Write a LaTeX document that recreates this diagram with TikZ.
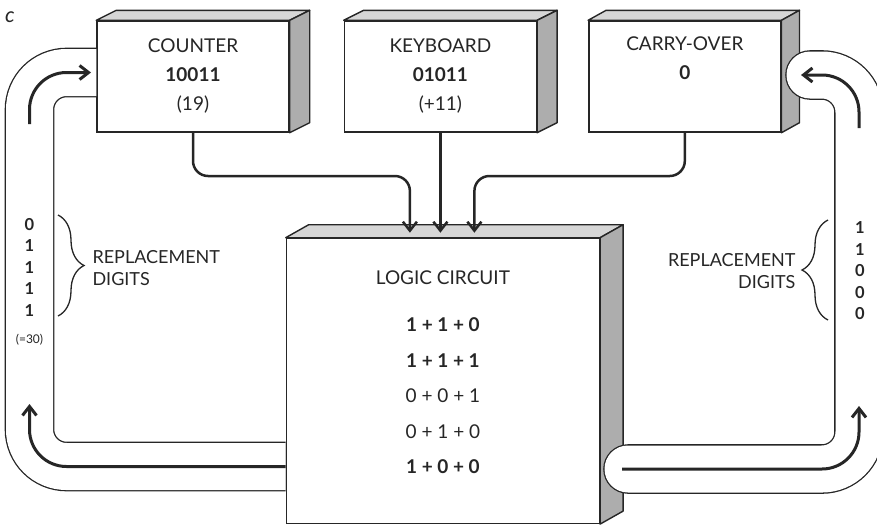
\documentclass[tikz,border=0pt]{standalone}
\usepackage{fontspec}
\setmainfont{Lato}
\usetikzlibrary{positioning, arrows.meta, calc, decorations.pathreplacing}

\begin{document}
\begin{tikzpicture}[
    x=1pt, y=-1pt,
    box/.style    = {draw=black!85, fill=white, line width=1.4pt, minimum width=192pt,
                     minimum height=111pt, align=center, inner sep=0pt, text=black!85,
                     font=\fontsize{19}{29}\selectfont},
    unit/.style   = {box, minimum width=313pt, minimum height=285pt},
    face/.style   = {draw=black!85, line width=1.4pt, line join=round, fill=black!16},
    side/.style   = {face, fill=black!32},
    tube/.style   = {draw=black!85, double=white, double distance=47pt, line width=1.3pt,
                     rounded corners=37pt},
    flow/.style   = {-{Straight Barb[length=9pt, width=14pt]}, draw=black!85,
                     line width=2.5pt, rounded corners=15pt},
    surge/.style  = {flow, line width=3pt, rounded corners=37pt},
    sum/.style    = {text=black!85, font=\fontsize{19}{19}\selectfont},
    note/.style   = {text=black!85, font=\fontsize{18}{22}\selectfont},
    digits/.style = {text=black!85, align=center, font=\bfseries\fontsize{16.5}{21.5}\selectfont},
    curly/.style  = {decorate, decoration={brace, amplitude=26pt}, draw=black!85, line width=1.3pt},
  ]
  \useasboundingbox (0,0) rectangle (877,525);
  \clip (0,0) rectangle (877,525);

  \node[box] (counter) at (193,76.5) {COUNTER\\\textbf{10011}\\(19)};
  \node[box, right=54pt of counter] (keyboard) {KEYBOARD\\\textbf{01011}\\(+11)};
  \node[box, right=51pt of keyboard] (carry) {CARRY-OVER\\\textbf{0}\\\strut};
  \node[unit, below=105pt of keyboard, xshift=2.5pt] (logic) {};

  % top and side faces of the blocks
  \foreach \b/\dx/\dy in {counter/20/10, keyboard/20/10, carry/18/10, logic/23/13} {
    \draw[face] (\b.north west) -- ++(\dx,-\dy) -- ($(\b.north east)+(\dx,-\dy)$)
                -- (\b.north east) -- cycle;
    \draw[side] (\b.north east) -- ++(\dx,-\dy) -- ($(\b.south east)+(\dx,-\dy)$)
                -- (\b.south east) -- cycle;
  }

  % return path, left
  \draw[tube] (counter.west |- 0,72.5) -- (29.5,72.5) -- (29.5,466.5) -- (logic.west |- 0,466.5);
  \coordinate (upL) at (29.5,404);
  \coordinate (intoC) at (91,72.5);
  \draw[surge] (logic.west |- 0,466.5) -- (29.5,466.5) -- (upL);
  \draw[surge] (29.5,124) -- (29.5,72.5) -- (intoC);

  % return path, right
  \draw[tube, line cap=round] (810,75) -- (859,75) -- (859,469) -- (628,469);
  \coordinate (upR) at (859,406);
  \coordinate (intoK) at (801,75);
  \draw[surge] (622,469) -- (859,469) -- (upR);
  \draw[surge] (859,128) -- (859,75) -- (intoK);

  % inputs to the logic circuit
  \coordinate (inA) at ([xshift=-33pt, yshift=5pt]logic.north);
  \coordinate (inC) at ([xshift=31.5pt, yshift=5pt]logic.north);
  \draw[flow] (counter.south) |- (inA |- 0,176) -- (inA);
  \draw[flow] (keyboard.south) -- (keyboard.south |- inA);
  \draw[flow] (carry.south) |- (inC |- 0,176) -- (inC);

  % logic circuit text
  \node[sum] (ltitle) at ([yshift=-40pt]logic.north) {LOGIC CIRCUIT};
  \foreach \s [count=\i] in {\textbf{1 + 1 + 0}, \textbf{1 + 1 + 1}, 0 + 0 + 1, 0 + 1 + 0, \textbf{1 + 0 + 0}}
    \node[sum] (row\i) at ($(logic.north)+(0,{87+35.5*(\i-1)})$) {\s};

  % replacement digits
  \node[digits] (newL) at (29.5,267) {0\\1\\1\\1\\1};
  \node[text=black!85, font=\fontsize{12}{14}\selectfont] (sumL) at (29.5,340) {(=30)};
  \draw[curly] (58,215) -- (58,316);
  \node[note, anchor=west, align=left] (replL) at (89,268) {REPLACEMENT\\DIGITS};
  \node[digits] (newR) at (860,271) {1\\1\\0\\0\\0};
  \draw[curly] (828,320) -- (828,220);
  \node[note, anchor=east, align=right] (replR) at (799,271) {REPLACEMENT\\DIGITS};

  \node[text=black!85, font=\itshape\fontsize{21}{21}\selectfont] (tag) at (10,17) {c};
\end{tikzpicture}
\end{document}
